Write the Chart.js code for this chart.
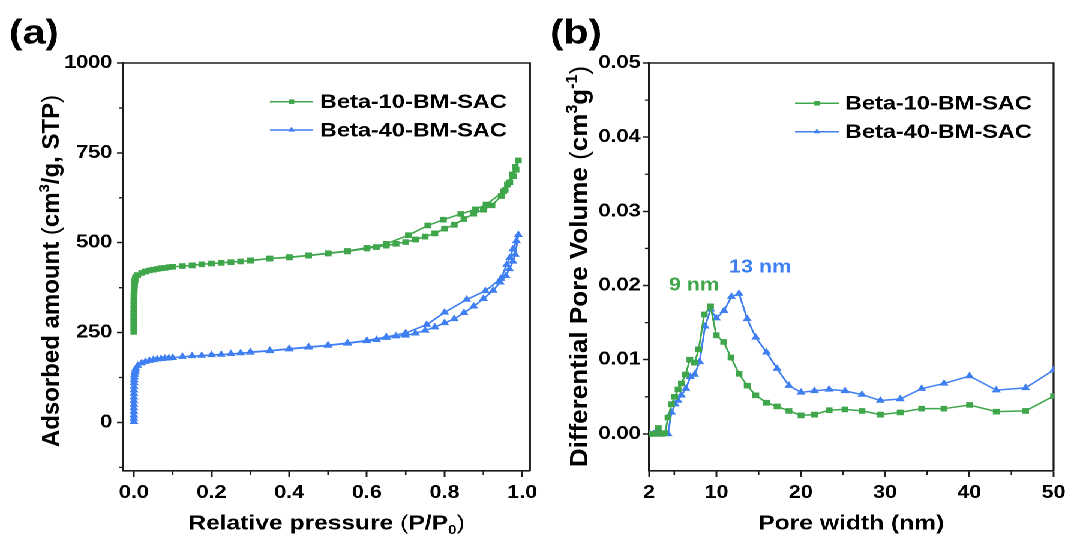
<!DOCTYPE html>
<html>
<head>
<meta charset="utf-8">
<script src="https://cdn.jsdelivr.net/npm/chart.js@4/dist/chart.umd.min.js"></script>
<style>
  html, body { margin: 0; padding: 0; background: #fff; overflow: hidden; }
  #wrap { position: absolute; left: 0; top: 0; width: 893.33px; height: 544px;
          transform: scaleX(1.2); transform-origin: 0 0; }
  canvas { position: absolute; top: 0; }
</style>
</head>
<body>
<div id="wrap">
  <canvas id="iso"></canvas>
  <canvas id="psd"></canvas>
</div>
<script>
// ---------- series ----------
const seriesNames = ['Beta-10-BM-SAC', 'Beta-40-BM-SAC'];

// N2 isotherm, Beta-10-BM-SAC (P/P0, cm3/g STP)
const b10AdsP = [0.00001, 0.00002, 0.00003, 0.00005, 0.00007, 0.0001, 0.00014, 0.0002, 0.00028, 0.0004, 0.00055, 0.00075, 0.001, 0.0014, 0.002, 0.0028, 0.0038,
  0.005, 0.01, 0.02, 0.03, 0.04, 0.05, 0.06, 0.07, 0.08, 0.09, 0.1,
  0.125, 0.15, 0.175, 0.2, 0.225, 0.25, 0.275, 0.3,
  0.35, 0.4, 0.45, 0.5, 0.55, 0.6, 0.625, 0.65, 0.675, 0.7, 0.725, 0.75, 0.775, 0.8, 0.825, 0.85, 0.875, 0.9, 0.922, 0.946, 0.956, 0.968, 0.977, 0.984, 0.99];
const b10AdsV = [252, 262, 272, 283, 294, 305, 316, 327, 338, 349, 359, 368, 376, 384, 390, 395, 400,
  405, 410, 416, 420, 423, 425, 427, 429, 430, 432, 433,
  435, 437, 440, 442, 444, 446, 448, 450,
  456, 459, 464, 470, 476, 484, 488, 492, 497, 502, 509, 517, 526, 539, 550, 566, 581, 592, 604, 630, 647, 668, 685, 703, 729];
const b10DesP = [0.982, 0.974, 0.962, 0.952, 0.907, 0.88, 0.842, 0.797, 0.757, 0.707, 0.65, 0.6, 0.55, 0.5, 0.45, 0.4, 0.35, 0.3];
const b10DesV = [711, 690, 662, 643, 606, 593, 580, 564, 548, 521, 497, 486, 477, 471, 465, 460, 456, 451];

// N2 isotherm, Beta-40-BM-SAC
const b40AdsP = [0.00001, 0.00002, 0.00003, 0.00005, 0.00007, 0.0001, 0.00014, 0.0002, 0.00028, 0.0004, 0.00055, 0.00075, 0.001, 0.0014, 0.002, 0.0028, 0.0038,
  0.005, 0.01, 0.02, 0.03, 0.04, 0.05, 0.06, 0.07, 0.08, 0.09, 0.1,
  0.125, 0.15, 0.175, 0.2, 0.225, 0.25, 0.275, 0.3,
  0.35, 0.4, 0.45, 0.5, 0.55, 0.6, 0.625, 0.65, 0.675, 0.7, 0.725, 0.75, 0.775, 0.8, 0.825, 0.85, 0.875, 0.9, 0.925, 0.943, 0.958, 0.967, 0.976, 0.982, 0.99];
const b40AdsV = [2, 11, 20, 30, 40, 50, 60, 70, 80, 90, 100, 110, 118, 126, 133, 139, 144,
  150, 158, 165, 169, 172, 174, 176, 177, 178, 179, 180,
  183, 185, 186, 188, 189, 191, 193, 195,
  199, 204, 209, 214, 220, 227, 230, 236, 240, 242, 248, 256, 265, 277, 288, 305, 323, 344, 367, 390, 408, 427, 448, 467, 522];
const b40DesP = [0.985, 0.976, 0.968, 0.96, 0.945, 0.905, 0.857, 0.8, 0.754, 0.7, 0.65, 0.6, 0.55, 0.5, 0.45, 0.4, 0.35, 0.3];
const b40DesV = [505, 482, 458, 439, 400, 366, 342, 306, 272, 249, 238, 228, 221, 215, 210, 205, 200, 196];

// BJH pore size distribution (nm, cm3/g)
const psd10W = [2.1, 2.6, 3.1, 3.5, 3.9, 4.25, 4.67, 5.06, 5.45, 5.84, 6.33, 6.85, 7.41, 7.9, 8.55, 9.3, 9.98, 10.86, 11.73, 12.68,
  13.65, 14.67, 15.94, 17.2, 18.6, 20.04, 21.63, 23.37, 25.25, 27.27, 29.45, 31.8, 34.35, 37.0, 40.03, 43.2, 46.68, 50];
const psd10dV = [0, 0, 0.0008, 0, 0.0001, 0.0022, 0.0040, 0.0050, 0.0060, 0.0068, 0.0080, 0.0100, 0.0096, 0.0114, 0.0161, 0.0172, 0.0133, 0.0124, 0.0103, 0.0081,
  0.0065, 0.0052, 0.0042, 0.0037, 0.0031, 0.0025, 0.0026, 0.0032, 0.0033, 0.0031, 0.0026, 0.0029, 0.0034, 0.0034, 0.0039, 0.0030, 0.0031, 0.0051];
const psd40W = [2.1, 2.6, 3.1, 3.5, 3.9, 4.25, 4.67, 5.1, 5.45, 5.84, 6.38, 6.9, 7.41, 8.0, 8.65, 9.3, 9.98, 10.9, 11.78, 12.68,
  13.65, 14.67, 15.94, 17.2, 18.6, 20.04, 21.63, 23.37, 25.25, 27.27, 29.45, 31.8, 34.35, 37.0, 40.03, 43.2, 46.68, 50];
const psd40dV = [0, 0, 0, 0, 0, 0, 0.0029, 0.0040, 0.0045, 0.0052, 0.0061, 0.0077, 0.0080, 0.0097, 0.0145, 0.0168, 0.0156, 0.0166, 0.0185, 0.0189,
  0.0155, 0.0130, 0.0110, 0.0088, 0.0065, 0.0056, 0.0058, 0.0060, 0.0058, 0.0053, 0.0045, 0.0047, 0.0061, 0.0068, 0.0078, 0.0059, 0.0062, 0.0086];

// axis ticks
const isoXTicks = [0, 0.2, 0.4, 0.6, 0.8, 1.0];
const isoXMinor = [0.1, 0.3, 0.5, 0.7, 0.9];
const isoYTicks = [0, 250, 500, 750, 1000];
const isoYMinor = [-125, 125, 375, 625, 875];
const psdXTicks = [2, 10, 20, 30, 40, 50];
const psdXMinor = [5, 15, 25, 35, 45];
const psdYTicks = [0, 0.01, 0.02, 0.03, 0.04, 0.05];
const psdYMinor = [0.005, 0.015, 0.025, 0.035, 0.045];

// peak notes (text, anchor in data units)
const peakNotes = [
  { text: '9 nm', x: 7.35, y: 0.0200, series: 0 },
  { text: '13 nm', x: 15.2, y: 0.0224, series: 1 }
];

// ---------- styling ----------
const S = 1.2;                       // horizontal stretch of the whole figure
const FAM = "'Liberation Sans', Arial, Helvetica, sans-serif";
const INK = '#1c1c1c';
const COLORS = ['#3fa64b', '#3f7ff2'];
const MARKS = [{ style: 'rect', r: 4.0 }, { style: 'triangle', r: 4.4 }];

const pts = (xs, ys) => xs.map((x, i) => ({ x, y: ys[i] }));

function seriesStyle(i) {
  return {
    label: seriesNames[i], showLine: true, tension: 0,
    borderColor: COLORS[i], backgroundColor: COLORS[i], borderWidth: 1.5,
    pointStyle: MARKS[i].style, pointRadius: MARKS[i].r, pointBorderWidth: 0,
    pointHoverRadius: MARKS[i].r
  };
}

// axis title with super/subscripts; segments: [text, kind] with kind n | sup | sub | light
function drawRich(ctx, segs, size, cx, cy, vertical) {
  ctx.save();
  ctx.translate(cx, cy);
  if (vertical) { ctx.scale(1 / S, 1); ctx.rotate(-Math.PI / 2); }
  const fontFor = k => `${k === 'light' ? 'normal' : 'bold'} ${(k === 'sup' || k === 'sub') ? size * 0.62 : size}px ${FAM}`;
  const widths = segs.map(([t, k]) => { ctx.font = fontFor(k); return ctx.measureText(t).width; });
  let x = -widths.reduce((a, b) => a + b, 0) / 2;
  const base = size * 0.358;
  ctx.fillStyle = '#000'; ctx.textAlign = 'left'; ctx.textBaseline = 'alphabetic';
  segs.forEach(([t, k], i) => {
    ctx.font = fontFor(k);
    const dy = k === 'sup' ? -size * 0.38 : k === 'sub' ? size * 0.22 : 0;
    ctx.fillText(t, x, base + dy);
    x += widths[i];
  });
  ctx.restore();
}

// frame, minor ticks, axis titles, key, notes and panel tag
const decor = {
  id: 'decor',
  beforeDatasetsDraw(chart, _a, o) {
    const { ctx, chartArea: a } = chart;
    const xs = chart.scales.x, ys = chart.scales.y;
    ctx.save();
    ctx.strokeStyle = INK;
    ctx.lineWidth = 1.6;
    ctx.beginPath();
    ctx.moveTo(a.left, a.top); ctx.lineTo(a.right, a.top); ctx.lineTo(a.right, a.bottom);
    ctx.stroke();
    ctx.lineWidth = 1.3;
    ctx.beginPath();
    o.xMinor.forEach(v => { const x = xs.getPixelForValue(v); ctx.moveTo(x, a.bottom); ctx.lineTo(x, a.bottom + 4); });
    o.yMinor.forEach(v => {
      const y = ys.getPixelForValue(v);
      if (y < a.top || y > a.bottom) return;
      ctx.moveTo(a.left, y); ctx.lineTo(a.left - 3.4, y);
    });
    ctx.stroke();
    ctx.restore();
    drawRich(ctx, o.xTitle.segs, o.xTitle.size, (a.left + a.right) / 2, o.xTitle.cy, false);
    drawRich(ctx, o.yTitle.segs, o.yTitle.size, o.yTitle.cx, o.yTitle.cy, true);
  },
  afterDatasetsDraw(chart, _a, o) {
    const { ctx } = chart;
    const xs = chart.scales.x, ys = chart.scales.y;
    ctx.save();
    // key
    chart.data.datasets.forEach((ds, i) => {
      const y = o.key.y[i];
      ctx.strokeStyle = ds.borderColor; ctx.fillStyle = ds.backgroundColor; ctx.lineWidth = 1.5;
      ctx.beginPath(); ctx.moveTo(o.key.x0, y); ctx.lineTo(o.key.x1, y); ctx.stroke();
      Chart.helpers.drawPoint(ctx, { pointStyle: ds.pointStyle, radius: 3.2, borderWidth: 0, rotation: 0 }, (o.key.x0 + o.key.x1) / 2, y);
      ctx.fillStyle = '#000';
      ctx.font = `bold ${o.key.size}px ${FAM}`;
      ctx.textAlign = 'left'; ctx.textBaseline = 'middle';
      ctx.fillText(ds.label, o.key.tx, y + 1);
    });
    // notes
    (o.notes || []).forEach(n => {
      ctx.fillStyle = COLORS[n.series];
      ctx.font = `bold 18px ${FAM}`;
      ctx.textAlign = 'center'; ctx.textBaseline = 'middle';
      ctx.fillText(n.text, xs.getPixelForValue(n.x), ys.getPixelForValue(n.y));
    });
    // panel tag
    ctx.fillStyle = '#000';
    ctx.font = `bold 34px ${FAM}`;
    ctx.textAlign = 'left'; ctx.textBaseline = 'middle';
    ctx.fillText(o.tag.text, o.tag.x, o.tag.y);
    ctx.restore();
  }
};

function axisCommon() {
  return {
    grid: { display: true, drawOnChartArea: false, drawTicks: true, color: INK, tickColor: INK, tickWidth: 1.5 },
    border: { display: true, color: INK, width: 1.6 },
    title: { display: false }
  };
}

function buildPanel(id, P, spec) {
  const cv = document.getElementById(id);
  cv.width = P.canvasWidth; cv.height = 544;
  cv.style.left = P.canvasLeft + 'px';
  cv.style.width = P.canvasWidth + 'px';
  cv.style.height = '544px';
  const lx = f => f / S - P.canvasLeft;        // figure x -> canvas x
  const yAxisW = lx(P.plot.l);
  const padR = P.canvasWidth - lx(P.plot.r);
  const xAxisH = 544 - P.plot.b;
  const tickFont = { family: FAM, size: 18, weight: 'bold' };
  const xa = axisCommon(), ya = axisCommon();
  xa.grid.tickLength = 6;
  ya.grid.tickLength = 5;

  return new Chart(cv, {
    type: 'scatter',
    data: { datasets: spec.datasets },
    options: {
      responsive: false, animation: false, devicePixelRatio: 2,
      events: [],
      layout: { padding: { left: 0, right: padR, top: P.plot.t, bottom: 0 } },
      plugins: {
        legend: { display: false }, tooltip: { enabled: false },
        decor: {
          xMinor: spec.xMinor, yMinor: spec.yMinor, notes: spec.notes,
          xTitle: { segs: spec.xTitle, size: 20.5, cy: 522 },
          yTitle: { segs: spec.yTitle, size: spec.yTitleSize, cx: lx(spec.yTitleX), cy: spec.yTitleY },
          key: { x0: lx(spec.key.x0), x1: lx(spec.key.x1), tx: lx(spec.key.tx), y: spec.key.y, size: 19.6 },
          tag: { text: spec.tag.text, x: lx(spec.tag.x), y: spec.tag.y }
        }
      },
      scales: {
        x: Object.assign(xa, {
          type: 'linear', position: 'bottom', min: spec.xMin, max: spec.xMax,
          afterBuildTicks: s => { s.ticks = spec.xTicks.map(v => ({ value: v })); },
          afterFit: s => { s.height = xAxisH; },
          ticks: { font: tickFont, color: '#000', padding: 5, maxRotation: 0, autoSkip: false, callback: spec.xFmt }
        }),
        y: Object.assign(ya, {
          type: 'linear', position: 'left', min: spec.yMin, max: spec.yMax,
          afterBuildTicks: s => { s.ticks = spec.yTicks.map(v => ({ value: v })); },
          afterFit: s => { s.width = yAxisW; },
          ticks: { font: tickFont, color: '#000', padding: spec.yPad, autoSkip: false, callback: spec.yFmt }
        })
      }
    },
    plugins: [decor]
  });
}

// (a) isotherms
buildPanel('iso', { canvasLeft: 0, canvasWidth: 454, plot: { l: 123, r: 530, t: 63, b: 471 } }, {
  datasets: [
    Object.assign(seriesStyle(0), { data: pts(b10AdsP.concat(b10DesP), b10AdsV.concat(b10DesV)) }),
    Object.assign(seriesStyle(1), { data: pts(b40AdsP.concat(b40DesP), b40AdsV.concat(b40DesV)) })
  ],
  xMin: -0.028, xMax: 1.02, yMin: -135, yMax: 1000,
  xTicks: isoXTicks, yTicks: isoYTicks, xMinor: isoXMinor, yMinor: isoYMinor,
  xFmt: v => v.toFixed(1), yFmt: v => String(v), yPad: 4,
  xTitle: [['Relative pressure ', 'n'], ['(', 'light'], ['P/P', 'n'], ['0', 'sub'], [')', 'light']],
  yTitle: [['Adsorbed amount ', 'n'], ['(', 'light'], ['cm', 'n'], ['3', 'sup'], ['/g, STP', 'n'], [')', 'light']],
  yTitleSize: 24, yTitleX: 50, yTitleY: 271,
  key: { x0: 270, x1: 313, tx: 320, y: [101.7, 130] },
  tag: { text: '(a)', x: 9, y: 34 },
  notes: []
});

// (b) pore size distribution
buildPanel('psd', { canvasLeft: 454, canvasWidth: 439, plot: { l: 649, r: 1057, t: 63, b: 471 } }, {
  datasets: [
    Object.assign(seriesStyle(0), { data: pts(psd10W, psd10dV) }),
    Object.assign(seriesStyle(1), { data: pts(psd40W, psd40dV) })
  ],
  xMin: 2, xMax: 50, yMin: -0.005, yMax: 0.05,
  xTicks: psdXTicks, yTicks: psdYTicks, xMinor: psdXMinor, yMinor: psdYMinor,
  xFmt: v => String(v), yFmt: v => v.toFixed(2), yPad: 2,
  xTitle: [['Pore width (nm)', 'n']],
  yTitle: [['Differential Pore Volume ', 'n'], ['(', 'light'], ['cm', 'n'], ['3', 'sup'], ['g', 'n'], ['-1', 'sup'], [')', 'light']],
  yTitleSize: 26, yTitleX: 578, yTitleY: 266.5,
  key: { x0: 795, x1: 839, tx: 845, y: [103.3, 131.7] },
  tag: { text: '(b)', x: 550, y: 34 },
  notes: peakNotes
});
</script>
</body>
</html>
